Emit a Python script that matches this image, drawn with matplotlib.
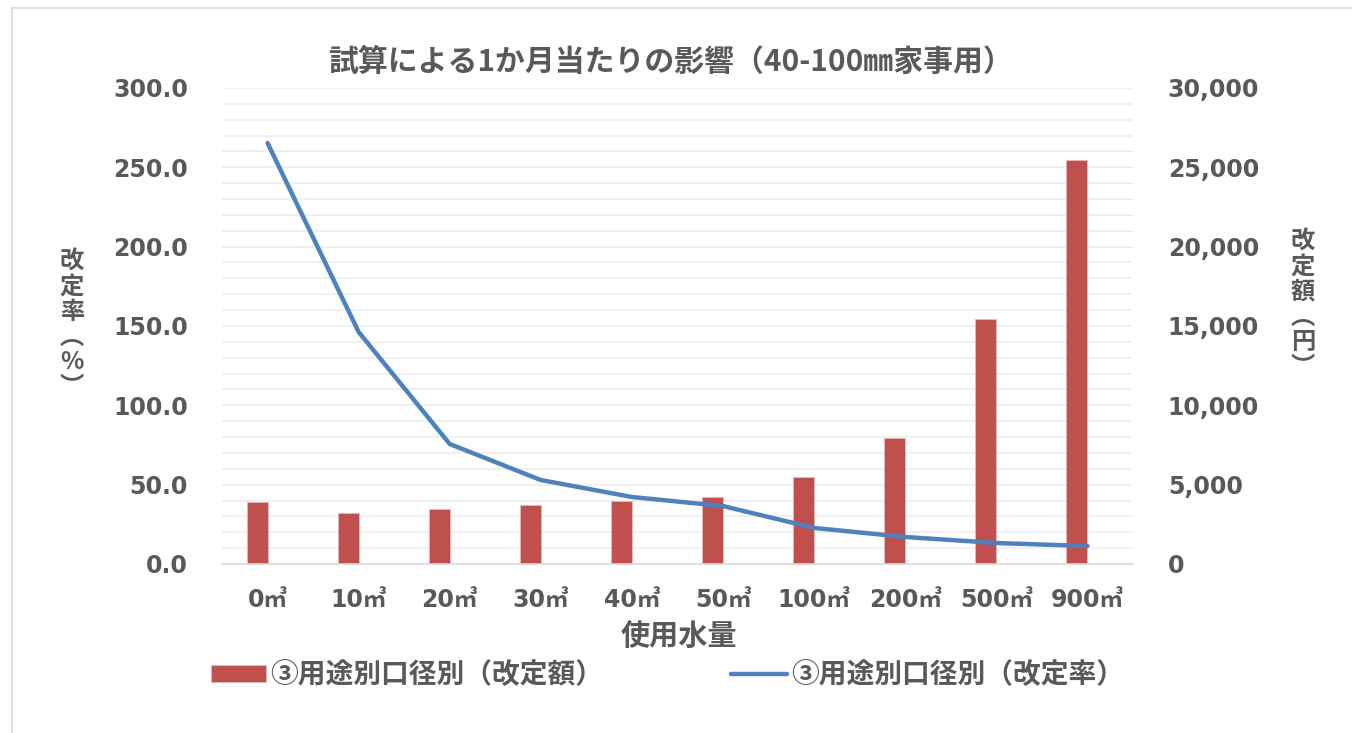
import matplotlib
matplotlib.use('Agg')
import matplotlib.pyplot as plt
import numpy as np

plt.rcParams['font.family'] = ['Noto Sans CJK JP', 'DejaVu Sans']
plt.rcParams['font.weight'] = 'bold'

categories = ['0㎥', '10㎥', '20㎥', '30㎥', '40㎥', '50㎥', '100㎥', '200㎥', '500㎥', '900㎥']
amount = [3900, 3200, 3470, 3720, 3970, 4220, 5480, 7940, 15440, 25460]   # 改定額 (円)
rate = [265.3, 146.2, 75.6, 52.9, 42.2, 36.5, 22.7, 17.0, 13.2, 11.3]     # 改定率 (%)

gray = '#595959'
red = '#C0504D'
blue = '#4F81BD'
numfont = ['DejaVu Sans', 'Noto Sans CJK JP']

fig = plt.figure(figsize=(13.52, 7.33), dpi=100)
ax = fig.add_axes([0.1642, 0.2306, 0.6738, 0.6494])
ax2 = ax.twinx()

x = np.arange(len(categories))

# bars on the secondary axis (drawn behind the line)
ax2.bar(x, amount, width=-0.23, align='edge', color=red, edgecolor='#E6B9B8', linewidth=0.6,
        label='③用途別口径別（改定額）', zorder=2)
ax2.set_ylim(0, 30000)
ax2.set_yticks(np.arange(0, 30001, 5000))
ax2.set_yticklabels([f'{v:,}' for v in range(0, 30001, 5000)], fontfamily=numfont, fontsize=17)

ax.set_zorder(ax2.get_zorder() + 1)
ax.patch.set_visible(False)
ax.plot(x, rate, color=blue, linewidth=3.2, solid_capstyle='round',
        label='③用途別口径別（改定率）', zorder=3)
ax.set_ylim(0, 300)
ax.set_yticks(np.arange(0, 301, 50))
ax.set_yticklabels([f'{v:.1f}' for v in range(0, 301, 50)], fontfamily=numfont, fontsize=17)
ax.set_xlim(-0.5, len(categories) - 0.5)
ax.set_xticks(x)
ax.set_xticklabels(categories, fontfamily=numfont, fontsize=17)

# gridlines every 10 units
for g in np.arange(10, 301, 10):
    ax2.axhline(g * 100, color='#EDEDED', linewidth=1.2, zorder=0)

for a in (ax, ax2):
    for s in a.spines.values():
        s.set_visible(False)
    a.tick_params(length=0, labelcolor=gray)
ax.spines['bottom'].set_visible(True)
ax.spines['bottom'].set_color('#D9D9D9')
ax.spines['bottom'].set_linewidth(1.2)
ax.tick_params(axis='y', pad=24.5)
ax.tick_params(axis='x', pad=17)
ax2.tick_params(axis='y', pad=25)

fig.text(0.496, 0.915, '試算による1か月当たりの影響（40-100㎜家事用）', ha='center', va='center',
         fontsize=21.5, color=gray, fontweight='bold')
fig.text(0.502, 0.132, '使用水量', ha='center', va='center', fontsize=21, color=gray, fontweight='bold')

fig.text(0.0533, 0.557, '\n'.join('改定率︵%︶'), ha='center', va='center', fontsize=17.5,
         color=gray, fontweight='bold', linespacing=1.06)
fig.text(0.9638, 0.585, '\n'.join('改定額︵円︶'), ha='center', va='center', fontsize=17.5,
         color=gray, fontweight='bold', linespacing=1.06)

h1, l1 = ax2.get_legend_handles_labels()
h2, l2 = ax.get_legend_handles_labels()
fig.legend(h1 + h2, l1 + l2, loc='center left', bbox_to_anchor=(197 / 1352, 0.079), ncol=2, frameon=False,
           fontsize=20, labelcolor=gray, handlelength=2.0, handleheight=0.55, handletextpad=0.15,
           columnspacing=4.6, borderpad=0.0)

# outer chart border
fig.add_artist(plt.Line2D([12 / 1352, 12 / 1352], [0, 1 - 8 / 733], color='#D9D9D9', linewidth=1.2))
fig.add_artist(plt.Line2D([12 / 1352, 1], [1 - 8 / 733, 1 - 8 / 733], color='#D9D9D9', linewidth=1.2))

fig.savefig('out.png', dpi=100)
